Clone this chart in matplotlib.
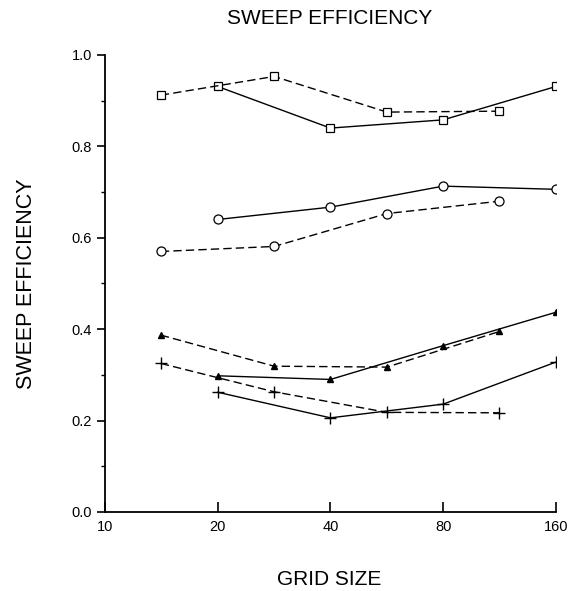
import matplotlib as mpl
import numpy as np

mpl.use("Agg")
import matplotlib.pyplot as plt  # noqa: E402
from matplotlib.ticker import FixedLocator, NullLocator  # noqa: E402

plt.rcParams["font.family"] = ["Liberation Sans", "DejaVu Sans"]

# grid sizes: solid runs on the doublings, dashed runs half-way between
X_SOLID = [20, 40, 80, 160]
X_DASH = [14.1, 28.3, 56.6, 113.1]

SQ_SOLID = [0.931, 0.840, 0.858, 0.931]
SQ_DASH = [0.912, 0.953, 0.875, 0.877]
CIRC_SOLID = [0.640, 0.667, 0.713, 0.706]
CIRC_DASH = [0.570, 0.581, 0.653, 0.680]
TRI_SOLID = [0.298, 0.290, 0.364, 0.437]
TRI_DASH = [0.387, 0.319, 0.317, 0.395]
PLUS_SOLID = [0.262, 0.206, 0.236, 0.328]
PLUS_DASH = [0.325, 0.263, 0.218, 0.217]

XTICKS = [10, 20, 40, 80, 160]
YTICKS = [0.0, 0.2, 0.4, 0.6, 0.8, 1.0]

fig = plt.figure(figsize=(5.69, 5.91), dpi=100)
ax = fig.add_axes([0.1845, 0.1337, 0.7925, 0.7733])

DASH = (0, (6, 3))
open_kw = dict(mfc="white", mec="black", mew=0.9, color="black", lw=1.0)
series = [
    (X_SOLID, SQ_SOLID, "-", "s", 6, open_kw),
    (X_DASH, SQ_DASH, DASH, "s", 6, open_kw),
    (X_SOLID, CIRC_SOLID, "-", "o", 6.5, open_kw),
    (X_DASH, CIRC_DASH, DASH, "o", 6.5, open_kw),
    (X_SOLID, TRI_SOLID, "-", "^", 5, dict(color="black", lw=1.0)),
    (X_DASH, TRI_DASH, DASH, "^", 5, dict(color="black", lw=1.0)),
    (X_SOLID, PLUS_SOLID, "-", "+", 8, dict(color="black", lw=1.0, mew=1.0)),
    (X_DASH, PLUS_DASH, DASH, "+", 8, dict(color="black", lw=1.0, mew=1.0)),
]
for xs, ys, ls, mk, ms, kw in series:
    ax.plot(xs, ys, linestyle=ls, marker=mk, ms=ms, **kw)

ax.set_xscale("log", base=2)
ax.set_xlim(10, 160)
ax.set_ylim(0, 1.0)
ax.xaxis.set_major_locator(FixedLocator(XTICKS))
ax.xaxis.set_minor_locator(NullLocator())
ax.set_xticklabels([str(t) for t in XTICKS])
ax.set_yticks(YTICKS)
ax.set_yticklabels([f"{t:.1f}" for t in YTICKS])
ax.set_yticks([0.1, 0.3, 0.5, 0.7, 0.9], minor=True)

for s in ("top", "right"):
    ax.spines[s].set_visible(False)
ax.spines["left"].set_linewidth(1.3)
ax.spines["bottom"].set_linewidth(1.3)
ax.tick_params(axis="x", direction="in", length=7, width=1.2, labelsize=10.5, pad=6)
ax.tick_params(axis="y", which="major", direction="out", length=6, width=1.2, labelsize=10.5)
ax.tick_params(axis="y", which="minor", direction="out", length=3, width=1.0)

fig.text(0.580, 0.969, "SWEEP EFFICIENCY", ha="center", va="center", fontsize=15)
fig.text(0.047, 0.52, "SWEEP EFFICIENCY", ha="center", va="center", rotation=90, fontsize=15.5)
fig.text(0.578, 0.020, "GRID SIZE", ha="center", va="center", fontsize=15)

fig.savefig("out.png", dpi=100)
